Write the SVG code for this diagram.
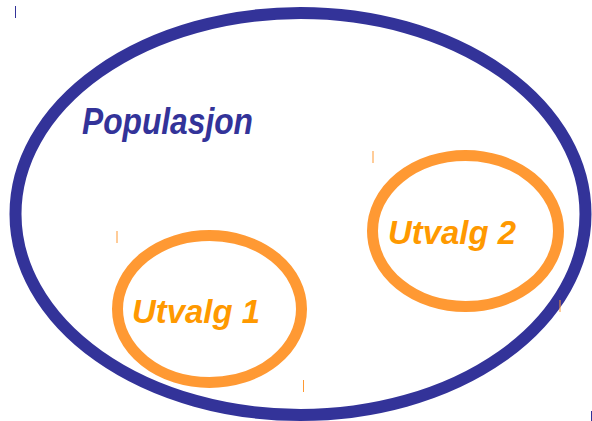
<svg xmlns="http://www.w3.org/2000/svg" width="592" height="421" viewBox="0 0 592 421">
<style>
.pop{fill:none;stroke:#333399;stroke-width:12}
.smp{fill:none;stroke:#FF9933;stroke-width:11}
.t{font-family:"Liberation Sans",Arial,sans-serif;font-weight:bold;font-style:italic}
.tb{fill:#333399}
.to{fill:#FF9900}
.tick{stroke-width:1}
</style>
<rect width="592" height="421" fill="#ffffff"/>
<g id="populasjon">
<ellipse class="pop" cx="300.5" cy="214" rx="285" ry="201"/>
<text class="t tb" x="82" y="134" font-size="36" textLength="171" lengthAdjust="spacingAndGlyphs">Populasjon</text>
</g>
<g id="utvalg2">
<ellipse class="smp" cx="465.5" cy="231" rx="93" ry="75.5"/>
<text class="t to" x="388" y="244" font-size="34" textLength="128" lengthAdjust="spacingAndGlyphs">Utvalg 2</text>
</g>
<g id="utvalg1">
<ellipse class="smp" cx="209.5" cy="309" rx="92" ry="73.5"/>
<text class="t to" x="132" y="323" font-size="34" textLength="128" lengthAdjust="spacingAndGlyphs">Utvalg 1</text>
</g>
<g id="connectors"></g>
<g id="ticks">
<line x1="15.5" y1="6" x2="15.5" y2="18" stroke="#333399" class="tick"/>
<line x1="373" y1="151" x2="373" y2="163" stroke="#FF9933" class="tick"/>
<line x1="117" y1="231" x2="117" y2="243" stroke="#FF9933" class="tick"/>
<line x1="303.5" y1="380" x2="303.5" y2="392" stroke="#FF9933" class="tick"/>
<line x1="560" y1="300" x2="560" y2="312" stroke="#FF9933" class="tick"/>
<line x1="591.5" y1="411" x2="591.5" y2="421" stroke="#333399" class="tick"/>
</g>
</svg>
